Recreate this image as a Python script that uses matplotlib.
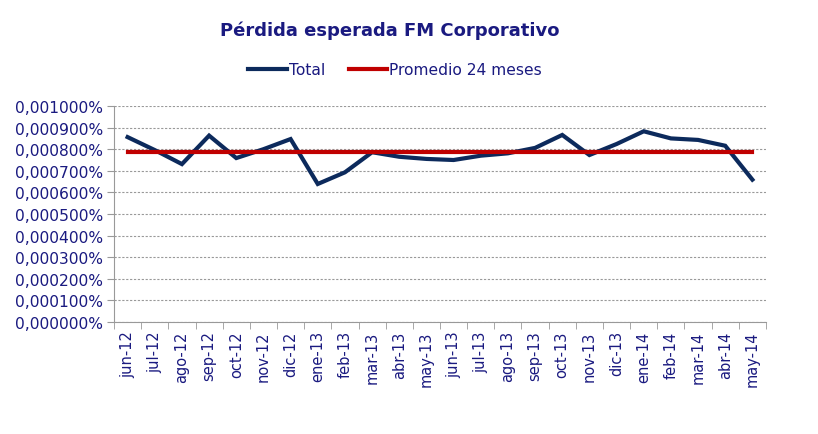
import matplotlib.pyplot as plt
from matplotlib.ticker import FuncFormatter, FixedLocator
from matplotlib.lines import Line2D

meses = ["jun-12", "jul-12", "ago-12", "sep-12", "oct-12", "nov-12", "dic-12",
         "ene-13", "feb-13", "mar-13", "abr-13", "may-13", "jun-13", "jul-13",
         "ago-13", "sep-13", "oct-13", "nov-13", "dic-13", "ene-14", "feb-14",
         "mar-14", "abr-14", "may-14"]
total = [0.000856, 0.000796, 0.000731, 0.000863, 0.000759, 0.000800, 0.000847,
         0.000639, 0.000693, 0.000786, 0.000765, 0.000755, 0.000750, 0.000770,
         0.000781, 0.000806, 0.000866, 0.000773, 0.000824, 0.000883, 0.000850,
         0.000843, 0.000816, 0.000659]
promedio = [0.000789] * len(meses)

navy_txt = "#1a1a80"
azul = "#0c2a5c"
rojo = "#c00000"

fig = plt.figure(figsize=(8.18, 4.35), dpi=100)
ax = fig.add_axes([0.1394, 0.2575, 0.797, 0.4965])

x = list(range(len(meses)))
ax.plot(x, total, color=azul, lw=3, solid_joinstyle="miter", zorder=3)
ax.plot(x, promedio, color=rojo, lw=3, zorder=4)

ax.set_xlim(-0.5, len(meses) - 0.5)
ax.set_ylim(0, 0.001)
ax.set_yticks([i * 0.0001 for i in range(11)])
ax.yaxis.set_major_formatter(FuncFormatter(lambda v, p: f"{v:.6f}%".replace(".", ",")))
ax.set_xticks(x)
ax.set_xticklabels(meses, rotation=90)
ax.xaxis.set_minor_locator(FixedLocator([i - 0.5 for i in range(len(meses) + 1)]))
ax.tick_params(axis="x", which="major", length=0, pad=6, labelsize=10.5, labelcolor=navy_txt)
ax.tick_params(axis="x", which="minor", length=5, color="#999999", direction="out")
ax.tick_params(axis="y", length=5, color="#999999", labelsize=11.2, labelcolor=navy_txt, pad=3)

ax.grid(axis="y", color="#999999", ls=(0, (2, 1.5)), lw=0.8)
for s in ["top", "right"]:
    ax.spines[s].set_visible(False)
for s in ["left", "bottom"]:
    ax.spines[s].set_color("#999999")

fig.text(0.477, 0.93, "Pérdida esperada FM Corporativo", ha="center", va="center",
         fontsize=13, fontweight="bold", color=navy_txt)
handles = [Line2D([], [], color=azul, lw=3), Line2D([], [], color=rojo, lw=3)]
fig.legend(handles, ["Total", "Promedio 24 meses"], loc="center", bbox_to_anchor=(0.483, 0.838),
           ncol=2, frameon=False, handlelength=2.5, handletextpad=0.1, columnspacing=1.5,
           labelcolor=navy_txt, prop={"size": 11.2})

fig.savefig("out.png", dpi=100)
